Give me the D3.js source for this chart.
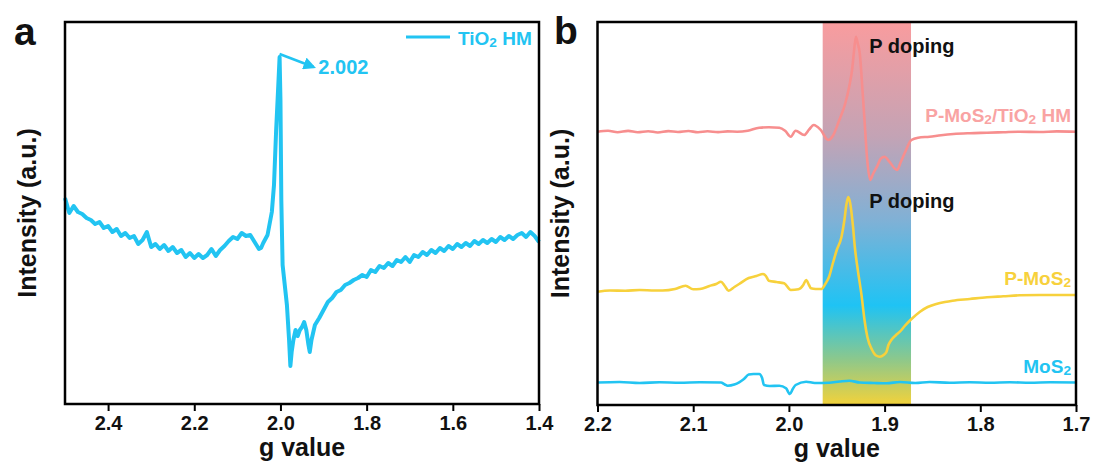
<!DOCTYPE html>
<html>
<head>
<meta charset="utf-8">
<script src="https://cdn.jsdelivr.net/npm/d3@7"></script>
<style>
  body { margin: 0; background: #fff; }
  svg text { font-family: "Liberation Sans", Arial, sans-serif; font-weight: bold; }
</style>
</head>
<body>
<div id="chart"></div>
<script>
// ---- panel a : TiO2 HM ----
const gA = [2.50,2.49,2.48,2.47,2.46,2.45,2.44,2.43,2.42,2.41,2.40,2.39,2.38,2.37,2.36,2.35,2.34,2.33,2.32,2.31,
  2.30,2.29,2.28,2.27,2.26,2.25,2.24,2.23,2.22,2.21,2.20,2.19,2.18,2.17,2.16,2.15,2.14,2.13,2.12,2.11,
  2.10,2.09,2.08,2.07,2.06,2.05,2.045,2.04,2.03,2.02,2.015,2.01,2.005,2.002,2.000,1.998,1.995,1.99,1.985,1.98,
  1.977,1.974,1.97,1.965,1.96,1.955,1.95,1.945,1.94,1.935,1.932,1.928,1.92,1.91,1.90,1.89,1.88,1.87,1.86,1.85,
  1.84,1.83,1.82,1.81,1.80,1.79,1.78,1.77,1.76,1.75,1.74,1.73,1.72,1.71,1.70,1.69,1.68,1.67,1.66,1.65,
  1.64,1.63,1.62,1.61,1.60,1.59,1.58,1.57,1.56,1.55,1.54,1.53,1.52,1.51,1.50,1.49,1.48,1.47,1.46,1.45,
  1.44,1.43,1.42,1.41,1.40];
const iA = [206,191,198,192,190,186,184,180,182,176,178,172,175,168,171,166,168,160,164,172,
  157,160,155,159,153,157,151,154,147,151,146,150,146,149,155,148,154,158,163,167,
  165,171,168,169,162,155,156,161,169,192,219,274,319,347,304,204,139,119,99,64,
  38,52,64,74,68,74,77,82,74,59,52,64,79,86,94,102,106,112,114,119,
  121,124,126,129,127,134,132,138,136,141,138,144,142,147,142,149,147,152,149,154,
  151,156,153,158,155,160,157,161,158,163,160,164,161,165,162,167,164,168,165,169,
  171,167,172,168,162];
const ticksA = [2.4, 2.2, 2.0, 1.8, 1.6, 1.4];
const peakLabelA = "2.002";
const peakGA = 2.002, arrowEndGA = 1.923, arrowEndIA = 337, peakTextGA = 1.912, peakTextIA = 330;

// ---- panel b : stacked spectra ----
const ticksB = [2.2, 2.1, 2.0, 1.9, 1.8, 1.7];
const bandB = [1.9647, 1.8724];

const mos2G = [2.200,2.177,2.156,2.135,2.114,2.093,2.071,2.067,2.064,2.057,2.052,2.047,2.042,2.037,2.031,2.028,2.026,2.020,2.010,2.003,
  1.999,1.996,1.993,1.982,1.973,1.958,1.947,1.937,1.926,1.911,1.898,1.884,1.868,1.853,1.832,1.811,1.790,1.769,1.748,1.727,1.700];
const mos2I = [0,0.5,-0.5,0.2,-0.2,0.2,0,-2,-3.2,-2,0.2,3.5,8,8.5,8.5,4.5,-2.5,-3.5,-3.2,-5.8,
  -11.5,-6.5,-2.5,0.8,-0.5,-0.2,1,1.8,0,-0.5,-0.8,0.5,-0.5,0.5,-0.3,0.3,-0.3,0.2,-0.2,0.2,0];

const pmos2G = [2.200,2.187,2.171,2.156,2.140,2.132,2.119,2.108,2.100,2.093,2.083,2.076,2.071,2.067,2.063,2.057,2.052,2.042,2.034,2.027,
  2.024,2.021,2.013,2.005,1.998,1.990,1.985,1.982,1.979,1.977,1.972,1.966,1.962,1.958,1.954,1.950,1.945,1.942,1.940,1.938,
  1.936,1.933,1.931,1.928,1.924,1.921,1.918,1.913,1.909,1.905,1.901,1.898,1.896,1.893,1.888,1.884,1.879,1.873,1.863,1.855,
  1.846,1.837,1.829,1.811,1.793,1.776,1.759,1.738,1.700];
const pmos2I = [-1,0.2,0,0.7,0.2,0.2,1.7,5,1.4,1.7,4.7,6.7,9,4.7,0,3.7,6.7,12.7,14.7,16.7,
  14.7,10,8.7,7.4,0.7,1.4,5.7,10.7,5.7,2.4,1.7,1.7,6.7,14,27.7,40.7,54,70.7,85.7,93.7,
  87.7,64,42.7,20.7,-5.3,-29.3,-46.3,-59.3,-64.8,-66,-64.3,-61,-54.3,-49.3,-44.3,-41,-35.3,-29.3,-21,-16.3,
  -13.3,-11.3,-10,-8.3,-6.6,-5.6,-4.6,-4.3,-4.3];

const ptioG = [2.200,2.189,2.179,2.168,2.158,2.147,2.137,2.126,2.116,2.105,2.095,2.085,2.074,2.064,2.054,2.043,2.031,2.021,2.010,2.004,
  1.998,1.993,1.984,1.979,1.974,1.967,1.959,1.954,1.948,1.941,1.937,1.934,1.932,1.930,1.928,1.926,1.923,1.921,1.918,1.915,
  1.912,1.908,1.904,1.900,1.895,1.887,1.883,1.879,1.872,1.865,1.853,1.841,1.828,1.811,1.793,1.776,1.759,1.738,1.720,1.700];
const ptioI = [0,1,-0.5,0.8,-0.5,0.5,-0.8,0.6,-0.3,0.7,-0.5,0.4,-0.4,0.3,0,1,4,4.5,4,1,
  -5,1,-3.3,2,6.7,2,-8.3,-4,10,28.7,45,61.7,80,95,88,78.7,40,11.7,-30,-48.3,
  -42,-35,-27,-25,-30,-38.3,-30,-21.3,-8.3,-6,-5,-3.5,-2.3,-1.5,-1,-0.5,0,-0.3,0.3,0];

const seriesNames = ["MoS2", "P-MoS2", "P-MoS2/TiO2 HM"];
const seriesOffsets = [22.5, 114.3, 273.3];
const seriesColors = ["#22c4f2", "#f7d13c", "#f78e8e"];
const labelColors = ["#22c4f2", "#f7d13c", "#f9a3a3"];
const dopingG = [1.916, 1.916];
const dopingI = [352, 197];

const W = 1093, H = 467;
const svg = d3.select("#chart").append("svg").attr("width", W).attr("height", H);

// subscript helper: every "2" in a formula is drawn as a subscript
function richText(sel, str) {
  let shift = 0;
  str.split(/(2)/).forEach(p => {
    if (p === "") return;
    if (p === "2") {
      sel.append("tspan").attr("font-size", "0.72em").attr("dy", 2 - shift).text("2");
      shift = 2;
    } else {
      sel.append("tspan").attr("dy", -shift).text(p);
      shift = 0;
    }
  });
}

function frame(g, w, h, x, ticks) {
  g.append("g")
    .attr("transform", `translate(0,${h})`)
    .call(d3.axisBottom(x).tickValues(ticks).tickFormat(d3.format(".1f")).tickSize(7).tickSizeOuter(0).tickPadding(5))
    .call(a => a.select(".domain").remove())
    .call(a => a.selectAll("line").attr("stroke", "#000").attr("stroke-width", 2))
    .call(a => a.selectAll("text").attr("font-size", 20).attr("fill", "#111")
      .style("font-family", '"Liberation Sans", Arial, sans-serif').style("font-weight", "bold"));
  g.append("rect").attr("width", w).attr("height", h)
    .attr("fill", "none").attr("stroke", "#000").attr("stroke-width", 2.5);
  g.append("text").attr("x", w / 2).attr("y", h + 52).attr("text-anchor", "middle")
    .attr("font-size", 25).attr("fill", "#111").text("g value");
  g.append("text").attr("transform", `translate(-29,${h / 2}) rotate(-90)`).attr("text-anchor", "middle")
    .attr("font-size", 25).attr("fill", "#111").text("Intensity (a.u.)");
}

// ---------- panel a ----------
const mA = { left: 65, top: 22 }, wA = 474, hA = 382;
const gPa = svg.append("g").attr("transform", `translate(${mA.left},${mA.top})`);
const xA = d3.scaleLinear().domain([2.5, 1.4]).range([0, wA]);
const yA = d3.scaleLinear().domain([0, 382]).range([hA, 0]);

gPa.append("path").datum(gA.map((g, i) => [g, iA[i]]))
  .attr("fill", "none").attr("stroke", "#22c4f2").attr("stroke-width", 4).attr("stroke-linejoin", "round")
  .attr("d", d3.line().x(d => xA(d[0])).y(d => yA(d[1])));

svg.append("defs").append("marker").attr("id", "arr").attr("viewBox", "0 0 10 10")
  .attr("refX", 8).attr("refY", 5).attr("markerWidth", 5).attr("markerHeight", 5).attr("orient", "auto")
  .append("path").attr("d", "M0,0 L10,5 L0,10 z").attr("fill", "#22c4f2");

gPa.append("line").attr("x1", xA(peakGA)).attr("y1", yA(d3.max(iA)) - 3)
  .attr("x2", xA(arrowEndGA)).attr("y2", yA(arrowEndIA))
  .attr("stroke", "#22c4f2").attr("stroke-width", 2.5).attr("marker-end", "url(#arr)");
gPa.append("text").attr("x", xA(peakTextGA)).attr("y", yA(peakTextIA))
  .attr("font-size", 20).attr("fill", "#22c4f2").text(peakLabelA);

// legend
gPa.append("line").attr("x1", wA - 133).attr("x2", wA - 89).attr("y1", 15).attr("y2", 15)
  .attr("stroke", "#22c4f2").attr("stroke-width", 3);
richText(gPa.append("text").attr("x", wA - 81).attr("y", 23).attr("font-size", 19).attr("fill", "#22c4f2"), "TiO2 HM");

frame(gPa, wA, hA, xA, ticksA);
svg.append("text").attr("x", 14).attr("y", 45).attr("font-size", 39).attr("fill", "#111").text("a");

// ---------- panel b ----------
const mB = { left: 597.5, top: 22 }, wB = 478.5, hB = 383;
const gPb = svg.append("g").attr("transform", `translate(${mB.left},${mB.top})`);
const xB = d3.scaleLinear().domain([2.2, 1.7]).range([0, wB]);
const yB = d3.scaleLinear().domain([0, 383]).range([hB, 0]);

const grad = svg.select("defs").append("linearGradient").attr("id", "band")
  .attr("x1", 0).attr("y1", 0).attr("x2", 0).attr("y2", 1);
[[0, "#f99c9e"], [0.3, "#c3a3b5"], [0.52, "#7fb1d6"], [0.74, "#1fc3f4"], [0.88, "#8cc88c"], [1, "#f3d23a"]]
  .forEach(s => grad.append("stop").attr("offset", s[0]).attr("stop-color", s[1]));

gPb.append("rect").attr("x", xB(bandB[0])).attr("y", 0)
  .attr("width", xB(bandB[1]) - xB(bandB[0])).attr("height", hB).attr("fill", "url(#band)");

const seriesData = [[mos2G, mos2I], [pmos2G, pmos2I], [ptioG, ptioI]];
seriesData.forEach((s, k) => {
  const pts = s[0].map((g, i) => [g, s[1][i] + seriesOffsets[k]]);
  gPb.append("path").datum(pts)
    .attr("fill", "none").attr("stroke", seriesColors[k]).attr("stroke-width", 2.6).attr("stroke-linejoin", "round")
    .attr("d", d3.line().curve(d3.curveMonotoneX).x(d => xB(d[0])).y(d => yB(d[1])));
  const last = pts[pts.length - 1];
  richText(gPb.append("text").attr("x", wB - 5).attr("y", yB(last[1]) - 10)
    .attr("text-anchor", "end").attr("font-size", 19).attr("fill", labelColors[k]), seriesNames[k]);
});

dopingG.forEach((g, i) => {
  gPb.append("text").attr("x", xB(g)).attr("y", yB(dopingI[i]))
    .attr("font-size", 20).attr("fill", "#111").text("P doping");
});

frame(gPb, wB, hB, xB, ticksB);
svg.append("text").attr("x", 554).attr("y", 44).attr("font-size", 39).attr("fill", "#111").text("b");
</script>
</body>
</html>
